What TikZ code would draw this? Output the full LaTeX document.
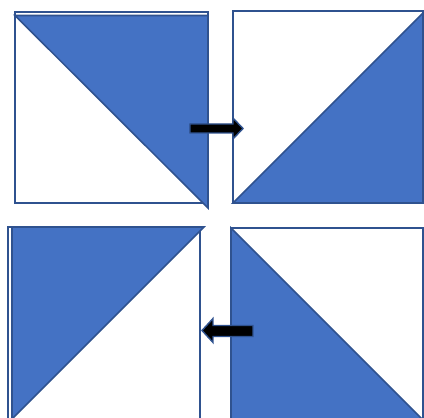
\documentclass[tikz,border=0pt]{standalone}
\usepackage{xcolor}
\usepackage{tikz}
\usetikzlibrary{positioning}
\definecolor{tileblue}{HTML}{4472C4}
\definecolor{tileedge}{HTML}{2F528F}

\begin{document}
\begin{tikzpicture}[x=0.025cm, y=-0.025cm, line join=miter]
  \tikzstyle{frame}=[draw=tileedge, line width=1.4pt, fill=white]
  \tikzstyle{half}=[draw=tileedge, line width=1.1pt, fill=tileblue]
  \tikzstyle{barrow}=[draw=tileedge, line width=1pt, fill=black]

  \useasboundingbox (0,0) rectangle (424,418);
  \clip (0,0) rectangle (424,418);

  % tile corners
  \coordinate (tlA) at ( 15, 12); \coordinate (tlB) at (208,203);
  \coordinate (trA) at (233, 11); \coordinate (trB) at (423,203);
  \coordinate (blA) at (  8,227); \coordinate (blB) at (200,430);
  \coordinate (brA) at (231,228); \coordinate (brB) at (423,430);

  \draw[frame] (tlA) rectangle (tlB);
  \draw[frame] (trA) rectangle (trB);
  \draw[frame] (blA) rectangle (blB);
  \draw[frame] (brA) rectangle (brB);

  % blue halves
  \draw[half] (15,15.5) -- (208,15.5) -- (208,208) -- cycle;
  \draw[half] (233,203) -- (423,203) -- (423,13) -- cycle;
  \draw[half] (12,227) -- (204,227) -- (12,419) -- cycle;
  \draw[half] (231,228) -- (423,420) -- (231,420) -- cycle;

  % block arrows
  \coordinate (fwd) at (190,128.5);
  \coordinate (back) at (202,330.5);
  \draw[barrow] (fwd) ++(0,-4.5) -- ++(43,0) -- ++(0,-6) -- ++(10,10.5)
                -- ++(-10,10.5) -- ++(0,-6) -- ++(-43,0) -- cycle;
  \draw[barrow] (back) -- ++(11,-12) -- ++(0,7) -- ++(40,0) -- ++(0,11)
                -- ++(-40,0) -- ++(0,6) -- cycle;
\end{tikzpicture}
\end{document}
